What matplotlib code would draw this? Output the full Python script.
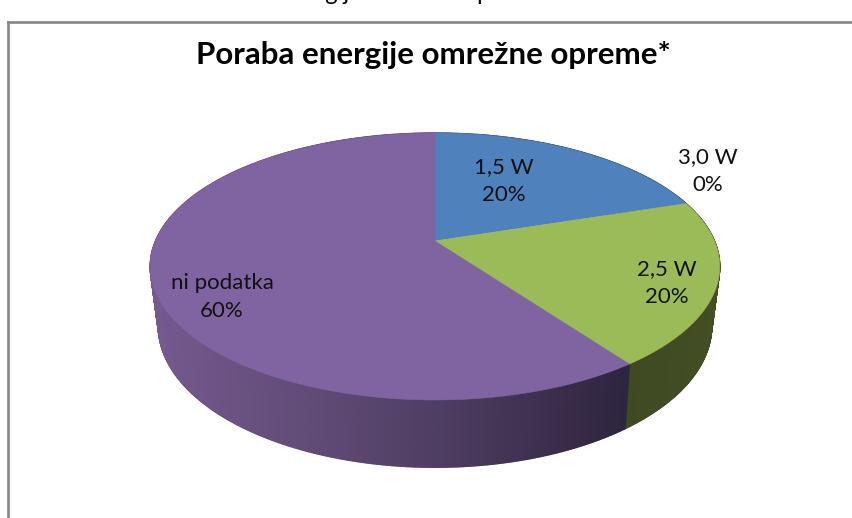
import numpy as np
import matplotlib
matplotlib.use("Agg")
import matplotlib.pyplot as plt
from matplotlib.patches import Polygon
from matplotlib.colors import to_rgb

title = "Poraba energije omrežne opreme*"
clipped_heading = "Poraba energije omrežne opreme"
categories = ["1,5 W", "2,5 W", "3,0 W", "ni podatka"]
values = [20, 20, 0, 60]
top_colors = ["#4f81bd", "#9bbb59", "#c0504d", "#8064a2"]

plt.rcParams["font.family"] = ["Lato", "DejaVu Sans"]
fig = plt.figure(figsize=(8.53, 5.18), dpi=100)
ax = fig.add_axes([0, 0, 1, 1])
ax.set_xlim(0, 853)
ax.set_ylim(518, 0)
ax.axis("off")

# Perspective projection of the pie disc (top and bottom planes)
def project(theta, cx, cy, a, b, k):
    x, y = np.sin(theta), np.cos(theta)
    w = 1 + k * y
    return cx + b * x / w, cy - a * y / w

TOP = (435, 241, 128.6, 279.5, 0.191)
BOT = (435, 298, 135.4, 271.0, 0.2)

def purple_wall(x):
    xs = [150, 300, 435, 560, 625]
    cs = np.array([to_rgb(c) for c in ["#75598f", "#624c78", "#4f3e63", "#3a2d4b", "#2e2540"]])
    return tuple(np.interp(x, xs, cs[:, i]) for i in range(3))

def green_wall(x):
    return tuple(np.interp(x, [623, 718], [a, b]) for a, b in zip(to_rgb("#3f4922"), to_rgb("#444e25")))

total = sum(values)
edges = 2 * np.pi * np.cumsum([0] + values) / total

# side wall
for i in range(len(values)):
    if values[i] == 0:
        continue
    th = np.linspace(edges[i], edges[i + 1], max(2, int(values[i] * 12)))
    tx, ty = project(th, *TOP)
    bx, by = project(th, *BOT)
    for j in range(len(th) - 1):
        mx = (tx[j] + tx[j + 1]) / 2
        if i == 0:
            col = to_rgb("#2f4a6e")
        elif i == 1:
            col = green_wall(mx)
        else:
            col = purple_wall(mx)
        ax.add_patch(Polygon([(tx[j], ty[j]), (tx[j + 1], ty[j + 1]), (bx[j + 1], by[j + 1]), (bx[j], by[j])],
                             closed=True, fc=col, ec=col, lw=1.0, zorder=1))

# top surface
for i in range(len(values)):
    if values[i] == 0:
        continue
    th = np.linspace(edges[i], edges[i + 1], 200)
    tx, ty = project(th, *TOP)
    pts = np.column_stack([np.r_[TOP[0], tx], np.r_[TOP[1], ty]])
    ax.add_patch(Polygon(pts, closed=True, fc=top_colors[i], ec=top_colors[i], lw=0.4, zorder=2))

# frame
ax.plot([8, 8], [518, 21.5], color="#868686", lw=1.9, zorder=3, solid_joinstyle="miter")
ax.plot([8, 853], [21.5, 21.5], color="#868686", lw=1.9, zorder=3)

# texts
ax.text(433, 55, title, ha="center", va="center", fontsize=22.5, fontweight="bold", color="black", zorder=4)
ax.text(372, 0, clipped_heading, ha="center", va="baseline", fontsize=17, color="black", zorder=4, clip_on=False)

label_pos = [(504, 181), (667, 283), (708, 171), (222, 297)]
for cat, val, (lx, ly) in zip(categories, values, label_pos):
    pct = round(100 * val / total)
    ax.text(lx, ly, f"{cat}\n{pct}%", ha="center", va="center", fontsize=16,
            linespacing=1.5, color="#111111", zorder=4)

fig.savefig("out.png", dpi=100)
